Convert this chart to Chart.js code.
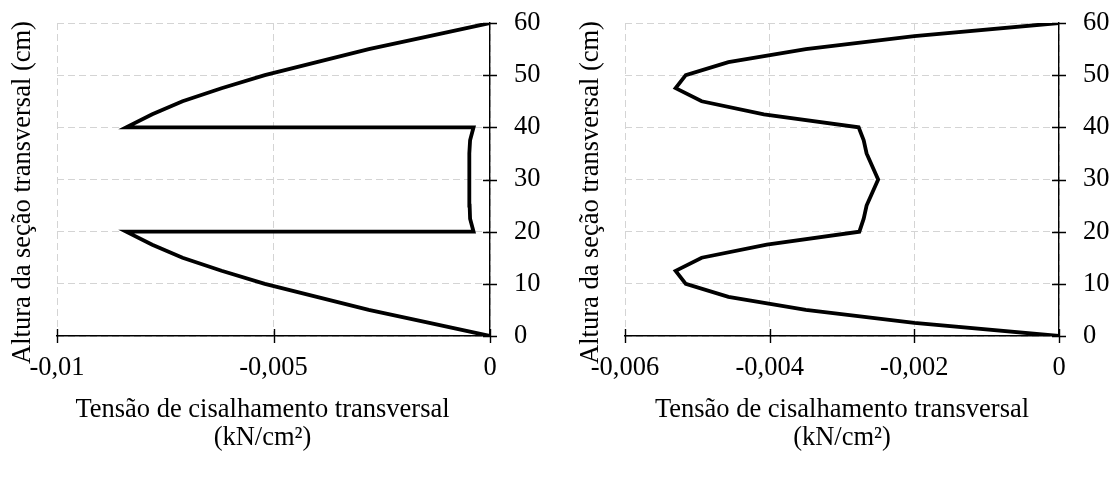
<!DOCTYPE html>
<html lang="pt">
<head>
<meta charset="UTF-8">
<title>Tensão de cisalhamento transversal</title>
<style>
    html, body { margin: 0; padding: 0; background: #fff; }
    body { width: 1111px; height: 481px; position: relative; overflow: hidden; }
    .box { position: absolute; top: 0; height: 481px; }
    #boxLeft { left: 0; width: 560px; }
    #boxRight { left: 568px; width: 543px; }
</style>
</head>
<body>
<div class="box" id="boxLeft"><canvas id="chartLeft"></canvas></div>
<div class="box" id="boxRight"><canvas id="chartRight"></canvas></div>
<script src="https://cdn.jsdelivr.net/npm/chart.js"></script>
<script>
// heights along the section (cm)
const leftHeights = [0, 2.5, 5, 7.5, 10, 12.5, 15, 17.5, 20,
    20, 22.5, 25, 27.5, 30, 32.5, 35, 37.5, 40,
    40, 42.5, 45, 47.5, 50, 52.5, 55, 57.5, 60];
// shear stress (kN/cm²)
const leftStress = [0, -0.0014, -0.0028, -0.0040, -0.0052, -0.0062, -0.0071, -0.0078, -0.0084,
    -0.00038, -0.00046, -0.00047, -0.00048, -0.00048, -0.00048, -0.00047, -0.00046, -0.00038,
    -0.0084, -0.0078, -0.0071, -0.0062, -0.0052, -0.0040, -0.0028, -0.0014, 0];

const rightHeights = [0, 2.5, 5, 7.5, 10, 12.5, 15, 17.5, 20, 22.5, 25, 27.5, 30,
    32.5, 35, 37.5, 40, 42.5, 45, 47.5, 50, 52.5, 55, 57.5, 60];
const rightStress = [0, -0.0020, -0.0035, -0.00457, -0.00516, -0.0053, -0.00494, -0.00404, -0.00276,
    -0.0027, -0.00266, -0.00258, -0.0025, -0.00258, -0.00266, -0.0027, -0.00277,
    -0.00408, -0.00494, -0.0053, -0.00516, -0.00457, -0.0035, -0.0020, 0];

const leftXTicks = [-0.01, -0.005, 0];
const rightXTicks = [-0.006, -0.004, -0.002, 0];
const yTicks = [0, 10, 20, 30, 40, 50, 60];

const yTitle = 'Altura da seção transversal (cm)';
const xTitle = ['Tensão de cisalhamento transversal', '(kN/cm²)'];

Chart.defaults.font.family = "'Liberation Serif', 'Times New Roman', serif";
Chart.defaults.font.size = 26.5;
Chart.defaults.color = '#000';

function fmt(v) {
    return Number(v.toFixed(6)).toString().replace('.', ',');
}

// ticks that cross the axis lines
const crossTicks = {
    id: 'crossTicks',
    afterDraw(chart) {
        const ctx = chart.ctx;
        const xs = chart.scales.x, ys = chart.scales.y;
        const yAxis = chart.chartArea.bottom, xAxis = chart.chartArea.right;
        ctx.save();
        ctx.strokeStyle = '#000';
        ctx.lineWidth = 1.4;
        ctx.beginPath();
        xs.ticks.forEach(t => {
            const p = Math.round(xs.getPixelForValue(t.value)) + 0.5;
            ctx.moveTo(p, yAxis - 7);
            ctx.lineTo(p, yAxis + 7);
        });
        ys.ticks.forEach(t => {
            const p = Math.round(ys.getPixelForValue(t.value)) + 0.5;
            ctx.moveTo(xAxis - 7, p);
            ctx.lineTo(xAxis + 7, p);
        });
        ctx.stroke();
        ctx.restore();
    }
};

function makeChart(id, xs, ys, xTicks, yAxisWidth, xTitleShift) {
    const pts = xs.map((v, i) => ({x: v, y: ys[i]}));
    // nudges the axis titles to where they sit in the original
    const nudgeTitles = {
        id: 'nudgeTitles',
        afterLayout(chart) {
            const t = chart.scales.yTitle;
            t.top += 13;
            t.bottom += 13;
            const b = chart.scales.xTitle;
            b.left += xTitleShift;
            b.right += xTitleShift;
        }
    };
    return new Chart(document.getElementById(id), {
        type: 'scatter',
        data: {
            datasets: [{
                data: pts,
                showLine: true,
                borderColor: '#000',
                borderWidth: 3.8,
                pointRadius: 0,
                tension: 0,
                borderJoinStyle: 'miter'
            }]
        },
        options: {
            responsive: true,
            maintainAspectRatio: false,
            animation: false,
            layout: { padding: { top: 23, bottom: 29, left: 0, right: 0 } },
            plugins: { legend: { display: false }, tooltip: { enabled: false } },
            scales: {
                x: {
                    type: 'linear',
                    weight: 0,
                    min: xTicks[0],
                    max: xTicks[xTicks.length - 1],
                    afterBuildTicks: s => { s.ticks = xTicks.map(v => ({value: v})); },
                    afterFit: s => { s.height = 64; },
                    ticks: { padding: 16, maxRotation: 0, callback: v => fmt(v) },
                    grid: { color: '#d4d4d4', lineWidth: 1, drawTicks: false },
                    border: { color: '#000', width: 1.4, dash: [7, 4] }
                },
                xTitle: {
                    type: 'linear',
                    position: 'bottom',
                    axis: 'x',
                    weight: 1,
                    min: 0,
                    max: 1,
                    afterFit: s => { s.height = 52; },
                    ticks: { display: false },
                    grid: { display: false, drawTicks: false },
                    border: { display: false },
                    title: {
                        display: true,
                        text: xTitle,
                        font: { size: 26.5, lineHeight: 1.05 },
                        padding: { top: 0, bottom: 0 }
                    }
                },
                y: {
                    type: 'linear',
                    position: 'right',
                    min: 0,
                    max: 60,
                    afterBuildTicks: s => { s.ticks = yTicks.map(v => ({value: v})); },
                    afterFit: s => { s.width = yAxisWidth; s.paddingTop = 0; s.paddingBottom = 0; },
                    ticks: { padding: 24 },
                    grid: { color: '#d4d4d4', lineWidth: 1, drawTicks: false },
                    border: { color: '#000', width: 1.4, dash: [7, 4] }
                },
                yTitle: {
                    type: 'linear',
                    position: 'left',
                    axis: 'y',
                    min: 0,
                    max: 60,
                    afterFit: s => { s.width = 57; },
                    ticks: { display: false },
                    grid: { display: false, drawTicks: false },
                    border: { display: false },
                    title: {
                        display: true,
                        text: yTitle,
                        font: { size: 26.5 },
                        padding: { top: 7, bottom: 0 }
                    }
                }
            }
        },
        plugins: [crossTicks, nudgeTitles]
    });
}

makeChart('chartLeft', leftStress, leftHeights, leftXTicks, 70, -11);
makeChart('chartRight', rightStress, rightHeights, rightXTicks, 52, 0);
</script>
</body>
</html>
